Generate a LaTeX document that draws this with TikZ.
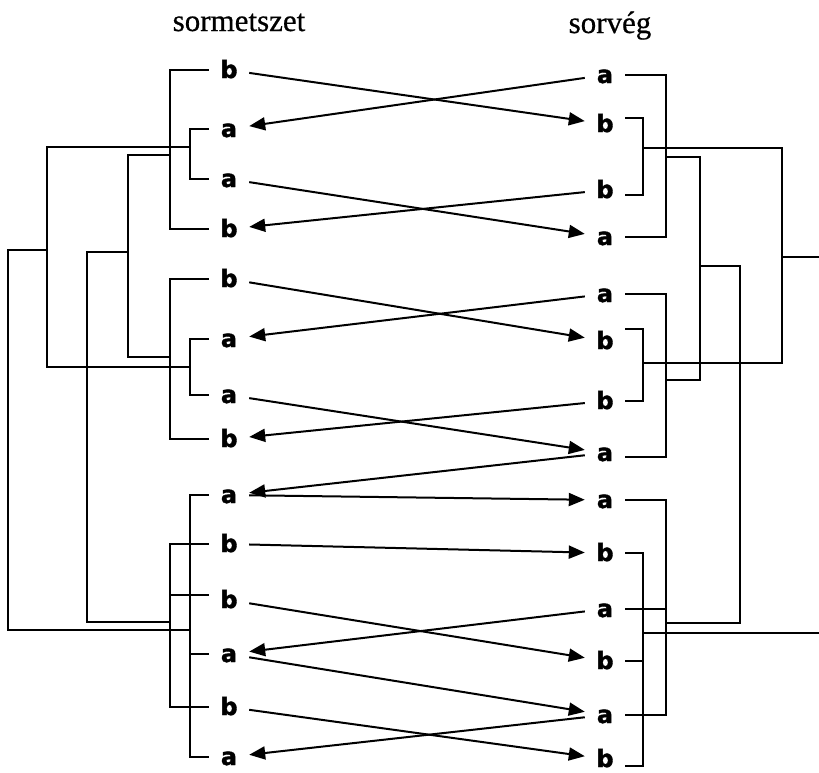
\documentclass[tikz,border=0pt]{standalone}
\usepackage{fontspec}
\setmainfont{Liberation Serif}
\newfontfamily\lettfont[FakeBold=1.6]{DejaVu Sans Bold}
\newfontfamily\ttlfont[FakeBold=0.6]{Liberation Serif}
\usetikzlibrary{arrows.meta}
\begin{document}
\begin{tikzpicture}[x=1pt,y=-1pt,
  lett/.style={font=\lettfont\fontsize{24}{24}\selectfont, minimum width=40pt, inner sep=0pt, text height=16pt, text depth=0pt},
  link/.style={line width=2pt, -{Triangle[length=16pt,width=13pt]}},
  brk/.style={line width=2pt},
  ttl/.style={font=\ttlfont\fontsize{31}{31}\selectfont, anchor=base, inner sep=0pt}]
\useasboundingbox (0,0) rectangle (819,772);
\fill[white] (0,0) rectangle (819,772);
% titles
\node[ttl] (t1) at (239,31) {sormetszet};
\node[ttl] (t2) at (610,33) {sorvég};
% left letters
\node[lett] (L1) at (229,70) {b};
\node[lett] (L2) at (229,129) {a};
\node[lett] (L3) at (229,179) {a};
\node[lett] (L4) at (229,229) {b};
\node[lett] (L5) at (229,279) {b};
\node[lett] (L6) at (229,339) {a};
\node[lett] (L7) at (229,395) {a};
\node[lett] (L8) at (229,439) {b};
\node[lett] (L9) at (229,495) {a};
\node[lett] (L10) at (229,544) {b};
\node[lett] (L11) at (229,600) {b};
\node[lett] (L12) at (229,654) {a};
\node[lett] (L13) at (229,707) {b};
\node[lett] (L14) at (229,757) {a};
% right letters
\node[lett] (R1) at (605,75) {a};
\node[lett] (R2) at (605,124) {b};
\node[lett] (R3) at (605,190) {b};
\node[lett] (R4) at (605,237) {a};
\node[lett] (R5) at (605,294) {a};
\node[lett] (R6) at (605,341) {b};
\node[lett] (R7) at (605,401) {b};
\node[lett] (R8) at (605,453) {a};
\node[lett] (R9) at (605,500) {a};
\node[lett] (R10) at (605,553) {b};
\node[lett] (R11) at (605,609) {a};
\node[lett] (R12) at (605,661) {b};
\node[lett] (R13) at (605,715) {a};
\node[lett] (R14) at (605,759) {b};
% arrows
\draw[link] (L1) -- (R2);
\draw[link] (R1) -- (L2);
\draw[link] (L3) -- (R4);
\draw[link] (R3) -- (L4);
\draw[link] (L5) -- (R6);
\draw[link] (R5) -- (L6);
\draw[link] (L7) -- (R8);
\draw[link] (R7) -- (L8);
\draw[link] (R8) -- (L9);
\draw[link] (L9) -- (R9);
\draw[link] (L10) -- (R10);
\draw[link] (L11) -- (R12);
\draw[link] (R11) -- (L12);
\draw[link] (L12) -- (R13);
\draw[link] (L13) -- (R14);
\draw[link] (R13) -- (L14);
% left brackets
\coordinate (xa) at (190,0);
\coordinate (xb) at (170,0);
\draw[brk] (L1.west) -- (L1.west -| xb) -- (L4.west -| xb) -- (L4.west);
\draw[brk] (L2.west) -- (L2.west -| xa) -- (L3.west -| xa) -- (L3.west);
\draw[brk] (L5.west) -- (L5.west -| xb) -- (L8.west -| xb) -- (L8.west);
\draw[brk] (L6.west) -- (L6.west -| xa) -- (L7.west -| xa) -- (L7.west);
\draw[brk] (L9.west) -- (L9.west -| xa) -- (L14.west -| xa) -- (L14.west);
\draw[brk] (L12.west) -- (L12.west -| xa);
\draw[brk] (L10.west) -- (L10.west -| xb) -- (L13.west -| xb) -- (L13.west);
\draw[brk] ([yshift=5pt]L11.west) -- ([yshift=5pt]L11.west -| xb);
% left higher levels
\coordinate (ja1) at (190,147);
\coordinate (jb1) at (170,155);
\coordinate (ja2) at (190,367);
\coordinate (jb2) at (170,357);
\coordinate (ja3) at (190,630);
\coordinate (jb3) at (170,622);
\coordinate (pa1) at (47,147);
\coordinate (pa2) at (47,367);
\coordinate (pa3) at (47,250);
\coordinate (qa1) at (8,250);
\coordinate (qa2) at (8,630);
\coordinate (pb1) at (128,155);
\coordinate (pb2) at (128,357);
\coordinate (pb3) at (128,252);
\coordinate (qb1) at (87,252);
\coordinate (qb2) at (87,622);
\draw[brk] (ja1) -- (pa1) -- (pa2) -- (ja2);
\draw[brk] (pa3) -- (qa1) -- (qa2) -- (ja3);
\draw[brk] (jb1) -- (pb1) -- (pb2) -- (jb2);
\draw[brk] (pb3) -- (qb1) -- (qb2) -- (jb3);
% right brackets
\coordinate (ya) at (666,0);
\coordinate (yb) at (643,0);
\draw[brk] (R1.east) -- (R1.east -| ya) -- (R4.east -| ya) -- (R4.east);
\draw[brk] ([yshift=6pt]R2.east) -- ([yshift=6pt]R2.east -| yb) -- ([yshift=-5pt]R3.east -| yb) -- ([yshift=-5pt]R3.east);
\draw[brk] (R5.east) -- (R5.east -| ya) -- ([yshift=-4pt]R8.east -| ya) -- ([yshift=-4pt]R8.east);
\draw[brk] ([yshift=12pt]R6.east) -- ([yshift=12pt]R6.east -| yb) -- (R7.east -| yb) -- (R7.east);
\draw[brk] (R9.east) -- (R9.east -| ya) -- (R13.east -| ya) -- (R13.east);
\draw[brk] (R11.east) -- (R11.east -| ya);
\draw[brk] (R10.east) -- (R10.east -| yb) -- ([yshift=-7pt]R14.east -| yb) -- ([yshift=-7pt]R14.east);
\draw[brk] (R12.east) -- (R12.east -| yb);
% right higher levels
\coordinate (kb1) at (643,148);
\coordinate (ka1) at (666,157);
\coordinate (kb2) at (643,363);
\coordinate (ka2) at (666,380);
\coordinate (ka3) at (666,623);
\coordinate (kb3) at (643,633);
\coordinate (mb1) at (782,148);
\coordinate (mb2) at (782,363);
\coordinate (mb3) at (782,257);
\coordinate (eb1) at (819,257);
\coordinate (eb2) at (819,633);
\coordinate (ma1) at (700,157);
\coordinate (ma2) at (700,380);
\coordinate (ma3) at (700,266);
\coordinate (na1) at (740,266);
\coordinate (na2) at (740,623);
\draw[brk] (kb1) -- (mb1) -- (mb2) -- (kb2);
\draw[brk] (mb3) -- (eb1);
\draw[brk] (ka1) -- (ma1) -- (ma2) -- (ka2);
\draw[brk] (ma3) -- (na1) -- (na2) -- (ka3);
\draw[brk] (kb3) -- (eb2);
\end{tikzpicture}
\end{document}
